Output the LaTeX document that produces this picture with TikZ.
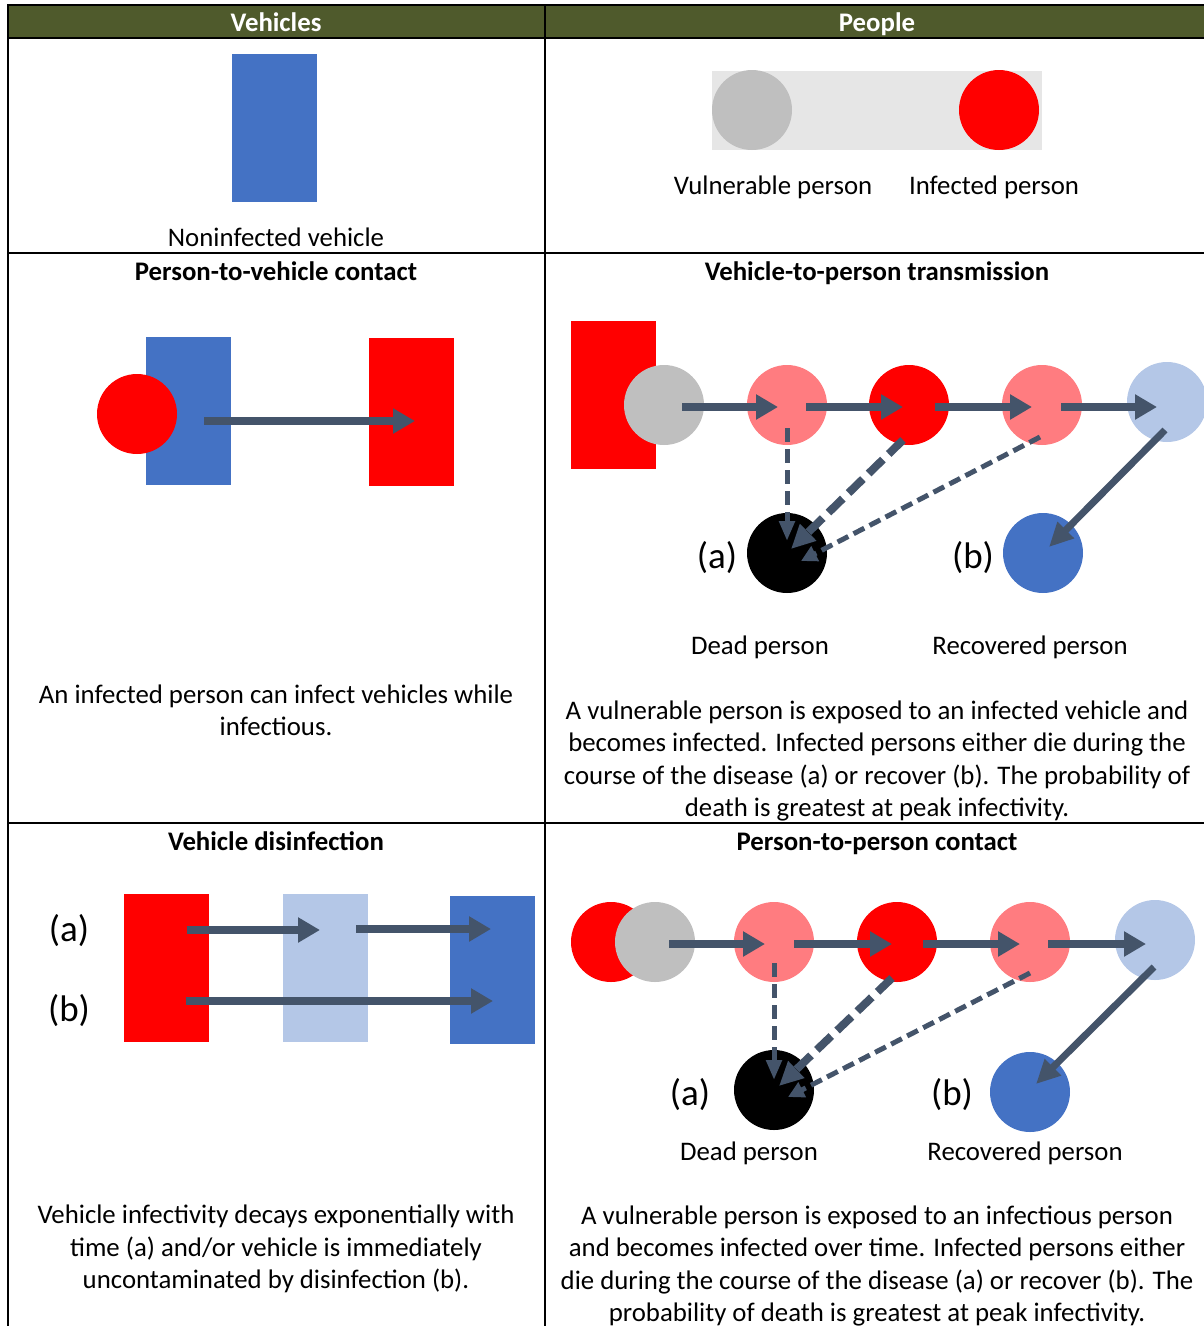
\documentclass[tikz,border=0pt]{standalone}
\usepackage{fontspec}
\setmainfont{Carlito}
\usetikzlibrary{arrows.meta,calc}
\definecolor{hdrgreen}{RGB}{79,90,44}
\definecolor{vblue}{RGB}{68,114,196}
\definecolor{lblue}{RGB}{180,199,231}
\definecolor{pinkred}{RGB}{255,124,128}
\definecolor{vgray}{RGB}{191,191,191}
\definecolor{bggray}{RGB}{230,230,230}
\definecolor{arrowgray}{RGB}{68,84,106}
\tikzset{
  veh/.style={rectangle, minimum width=85pt, minimum height=148pt, inner sep=0pt},
  pers/.style={circle, minimum size=80pt, inner sep=0pt},
  txt/.style={font=\fontsize{26.8}{32.5}\selectfont, inner sep=0pt, align=center},
  lbl/.style={font=\fontsize{26.8}{32.5}\selectfont, inner sep=0pt, text height=23pt, text depth=5pt},
  hdr/.style={font=\fontsize{26.8}{32.5}\selectfont\bfseries, inner sep=0pt, text height=23pt, text depth=5pt},
  abl/.style={font=\fontsize{37}{40}\selectfont, inner sep=0pt},
  flow/.style={draw=arrowgray, line width=8pt, -{Triangle[length=22pt,width=24pt]}},
  dflow/.style={draw=arrowgray, line width=5pt, dash pattern=on 14pt off 7pt, -{Triangle[length=20pt,width=15pt]}},
  tflow/.style={draw=arrowgray, line width=8pt, dash pattern=on 20pt off 8pt, -{Triangle[length=24pt,width=22pt]}},
  sflow/.style={draw=arrowgray, line width=5pt, dash pattern=on 12pt off 6pt, -{Triangle[length=16pt,width=16pt]}},
  rflow/.style={draw=arrowgray, line width=7pt, -{Triangle[length=24pt,width=22pt]}}
}
\begin{document}
\begin{tikzpicture}[x=1pt,y=-1pt]
  \useasboundingbox (0,0) rectangle (1204,1326);
  \fill[hdrgreen] (8,5) rectangle (1210,38);
  \draw[line width=2pt] (8,5) -- (1210,5);
  \draw[line width=2pt] (8,38) -- (1210,38);
  \draw[line width=2pt] (8,4) -- (8,1330);
  \draw[line width=2pt] (545,4) -- (545,1330);
  \draw[line width=2pt] (8,253) -- (1210,253);
  \draw[line width=2pt] (8,823) -- (1210,823);
  \node[hdr, text=white] (hveh) at (276,22) {Vehicles};
  \node[hdr, text=white] (hpeo) at (877,22) {People};

  \node[veh, fill=vblue] (v0) at (274,128) {};
  \node[lbl] (tv0) at (276,237) {Noninfected vehicle};
  \node[rectangle, minimum width=330pt, minimum height=79pt, fill=bggray] (bg) at (877,110.5) {};
  \node[pers, fill=vgray] (s0) at (752,110) {};
  \node[pers, fill=red] (i0) at (999,110) {};
  \node[lbl] (ts0) at (773,185) {Vulnerable person};
  \node[lbl] (ti0) at (994,185) {Infected person};

  \node[hdr] (h2l) at (276,271) {Person-to-vehicle contact};
  \node[veh, fill=vblue] (v2) at (188,411) {};
  \node[pers, fill=red] (p2) at (137,414) {};
  \node[veh, fill=red] (vr2) at (411,412) {};
  \draw[flow] ($(v2.center)+(16,10)$) -- ($(vr2.center)+(4,9)$);
  \node[txt] (t2l) at (276,710.5) {An infected person can infect vehicles while\\infectious.};

  \node[hdr] (h2r) at (877,271) {Vehicle-to-person transmission};
  \node[veh, fill=red] (vi2) at (613.5,395) {};
  \node[pers, fill=vgray] (s1) at (664,405) {};
  \node[pers, fill=pinkred] (i1) at (787,405) {};
  \node[pers, fill=red] (i2) at (909,405) {};
  \node[pers, fill=pinkred] (i3) at (1042,405) {};
  \node[pers, fill=lblue] (r1) at (1167,402) {};
  \node[pers, fill=black] (d1) at (787,553) {};
  \node[pers, fill=vblue] (c1) at (1043,553) {};
  \draw[flow] ($(s1.center)+(18,2)$) -- ($(i1.center)+(-9,2)$);
  \draw[flow] ($(i1.center)+(19,2)$) -- ($(i2.center)+(-6,2)$);
  \draw[flow] ($(i2.center)+(26,2)$) -- ($(i3.center)+(-10,2)$);
  \draw[flow] ($(i3.center)+(19,2)$) -- ($(r1.center)+(-10,5)$);
  \draw[dflow] ($(i1.center)+(0,23)$) -- ($(d1.center)+(0,-12)$);
  \draw[tflow] ($(i2.center)+(-6,35)$) -- ($(d1.center)+(4,-4)$);
  \draw[sflow] ($(i3.center)+(-2,32)$) -- ($(d1.center)+(14,8)$);
  \draw[rflow] ($(r1.center)+(-2,28)$) -- ($(c1.center)+(6,-6)$);
  \node[abl] (a1) at (717,558) {(a)};
  \node[abl] (b1) at (973,558) {(b)};
  \node[lbl] (td1) at (760,645) {Dead person};
  \node[lbl] (tc1) at (1030,645) {Recovered person};
  \node[txt] (t2r) at (877,761) {A vulnerable person is exposed to an infected vehicle and\\becomes infected. Infected persons either die during the\\course of the disease (a) or recover (b). The probability of\\death is greatest at peak infectivity.};

  \node[hdr] (h3l) at (276,841) {Vehicle disinfection};
  \node[veh, fill=red] (r3) at (166.5,968) {};
  \node[veh, fill=lblue] (l3) at (325,968) {};
  \node[veh, fill=vblue] (b3) at (492,970) {};
  \draw[flow] ($(r3.center)+(20,-38)$) -- ($(l3.center)+(-5,-38)$);
  \draw[flow] ($(l3.center)+(31,-39)$) -- ($(b3.center)+(-1,-41)$);
  \draw[flow] ($(r3.center)+(19,33)$) -- ($(b3.center)+(1,31)$);
  \node[abl] (a3) at (69,931) {(a)};
  \node[abl] (b3l) at (69,1011) {(b)};
  \node[txt] (t3l) at (276,1249) {Vehicle infectivity decays exponentially with\\time (a) and/or vehicle is immediately\\uncontaminated by disinfection (b).};

  \node[hdr] (h3r) at (877,841) {Person-to-person contact};
  \node[pers, fill=red] (p4) at (611,942) {};
  \node[pers, fill=vgray] (s4) at (655,942) {};
  \node[pers, fill=pinkred] (i4) at (774,942) {};
  \node[pers, fill=red] (i5) at (897,942) {};
  \node[pers, fill=pinkred] (i6) at (1030,942) {};
  \node[pers, fill=lblue] (r4) at (1155,940) {};
  \node[pers, fill=black] (d4) at (774,1090) {};
  \node[pers, fill=vblue] (c4) at (1030,1092) {};
  \draw[flow] ($(s4.center)+(14,2)$) -- ($(i4.center)+(-9,2)$);
  \draw[flow] ($(i4.center)+(20,2)$) -- ($(i5.center)+(-5,2)$);
  \draw[flow] ($(i5.center)+(26,2)$) -- ($(i6.center)+(-10,2)$);
  \draw[flow] ($(i6.center)+(18,2)$) -- ($(r4.center)+(-9,4)$);
  \draw[dflow] ($(i4.center)+(0,21)$) -- ($(d4.center)+(0,-10)$);
  \draw[tflow] ($(i5.center)+(-5,36)$) -- ($(d4.center)+(5,-4)$);
  \draw[sflow] ($(i6.center)+(0,31)$) -- ($(d4.center)+(14,7)$);
  \draw[rflow] ($(r4.center)+(-1,27)$) -- ($(c4.center)+(6,-8)$);
  \node[abl] (a4) at (690,1095) {(a)};
  \node[abl] (b4) at (952,1095) {(b)};
  \node[lbl] (td4) at (749,1151) {Dead person};
  \node[lbl] (tc4) at (1025,1151) {Recovered person};
  \node[txt] (t3r) at (877,1266) {A vulnerable person is exposed to an infectious person\\and becomes infected over time. Infected persons either\\die during the course of the disease (a) or recover (b). The\\probability of death is greatest at peak infectivity.};
\end{tikzpicture}
\end{document}
